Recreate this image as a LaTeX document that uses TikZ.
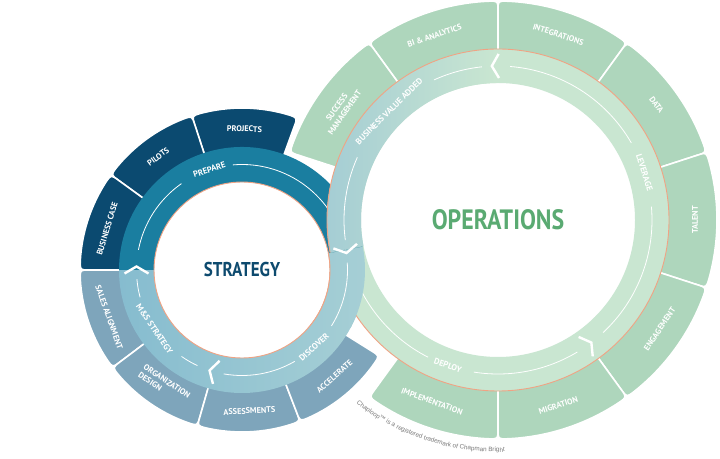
\documentclass[tikz,border=0pt]{standalone}
\usepackage{fontspec}
\usetikzlibrary{decorations.text}
\newfontfamily\labfont{PT Sans}
\newfontfamily\titlefont[FakeStretch=0.85]{PT Sans}
\newfontfamily\tmfont{Liberation Sans}

\definecolor{navy}{HTML}{0B4A70}
\definecolor{slate}{HTML}{7EA5BB}
\definecolor{prepteal}{HTML}{1A7EA0}
\definecolor{msblue}{HTML}{86BCCF}
\definecolor{discblue}{HTML}{A6CFD5}
\definecolor{opsgreen}{HTML}{AED6BC}
\definecolor{bandgreen}{HTML}{C9E6D1}
\definecolor{bandblue}{HTML}{A3CCD4}
\definecolor{rimorange}{HTML}{F0A384}
\definecolor{stratnavy}{HTML}{0D4A6E}
\definecolor{opstext}{HTML}{5AAA72}
\definecolor{tmgray}{HTML}{7A7A7A}

% ring piece: start angle, end angle, inner r, outer r, colour
\newcommand\ringseg[5]{%
  \pgfmathsetmacro\cra{9/#4*180/pi}
  \filldraw[fill=#5, draw=white, line width=1.6pt]
    (#1+\cra:#4) arc[start angle=#1+\cra, end angle=#2-\cra, radius=#4]
    .. controls (#2:#4) .. (#2:#4-9) -- (#2:#3)
    arc[start angle=#2, end angle=#1, radius=#3] -- (#1:#4-9)
    .. controls (#1:#4) .. (#1+\cra:#4) -- cycle;}

% chevron: centre, angle, radius, +1 ccw / -1 cw
\newcommand\chev[4]{%
  \draw[chevron, shift={(#1)}, rotate=#2]
    ({#3-12},{-3.5*(#4)}) -- (#3,{3.5*(#4)}) -- ({#3+12},{-3.5*(#4)});}

\newcommand\leftband{%
  \begin{scope}[shift={(L)}]
    \shade[left color=msblue, right color=discblue]
      (180:123) arc[start angle=180, end angle=371, radius=123]
      -- (371:88) arc[start angle=371, end angle=180, radius=88] -- cycle;
    \fill[prepteal] (11:123) arc[start angle=11, end angle=180, radius=123]
      -- (180:88) arc[start angle=180, end angle=11, radius=88] -- cycle;
    \foreach \a/\b in {125/169, 11/95, -32/4, 260/300, 235/245, 185/195}
      \draw[flowline] (\a:105.5) arc[start angle=\a, end angle=\b, radius=105.5];
    \draw[rimline] (0,0) circle[radius=88];
  \end{scope}}

\newcommand\rightband{%
  \begin{scope}[shift={(R)}]
    \fill[bandgreen, even odd rule] (0,0) circle[radius=171] (0,0) circle[radius=137];
    \shade[left color=bandblue, right color=bandgreen]
      (191:171) arc[start angle=191, end angle=91, radius=171]
      -- (91:137) arc[start angle=91, end angle=191, radius=137] -- cycle;
    \foreach \a/\b in {30/85.5, -47/5, 261/301, 196/243, 156/187.5, 96/114.5}
      \draw[flowline] (\a:154) arc[start angle=\a, end angle=\b, radius=154];
    \draw[rimline] (0,0) circle[radius=171];
  \end{scope}}

\begin{document}
\begin{tikzpicture}[
  x=1pt, y=1pt,
  seglab/.style={text=white, font=\labfont\bfseries\fontsize{8.2}{9.5}\selectfont, align=center, inner sep=0pt},
  bandlab/.style={text=white, font=\labfont\bfseries\fontsize{8.5}{9}\selectfont, inner sep=0pt},
  flowline/.style={white, line width=0.8pt},
  chevron/.style={white, line width=2.4pt, line join=miter},
  rimline/.style={rimorange, line width=0.9pt}
]
  \useasboundingbox (0,0) rectangle (720,458);
  \fill[white] (0,0) rectangle (720,458);
  \coordinate (L) at (242,188);
  \coordinate (R) at (498,238);

  % operations ring pieces
  \begin{scope}[shift={(R)}]
    \ringseg{90}{126}{169}{219}{opsgreen}
    \ringseg{54}{90}{169}{219}{opsgreen}
    \ringseg{18}{54}{169}{219}{opsgreen}
    \ringseg{-18}{18}{169}{219}{opsgreen}
    \ringseg{-54}{-18}{169}{219}{opsgreen}
    \ringseg{-90}{-54}{169}{219}{opsgreen}
    \ringseg{-126}{-90}{169}{219}{opsgreen}
    \ringseg{126}{162}{169}{219}{opsgreen}
    \node[seglab, rotate=19] (bi) at (109:195) {BI \& ANALYTICS};
    \node[seglab, rotate=-18] (integ) at (72:195) {INTEGRATIONS};
    \node[seglab, rotate=-54] (data) at (36:196) {DATA};
    \node[seglab, rotate=90] (talent) at (0:197) {TALENT};
    \node[seglab, rotate=56] (engage) at (-34:195) {ENGAGEMENT};
    \node[seglab, rotate=18] (migr) at (-72:195) {MIGRATION};
    \node[seglab, rotate=-20] (impl) at (-110:193) {IMPLEMENTATION};
    \node[seglab, rotate=55] (success) at (145:192) {SUCCESS\\MANAGEMENT};
  \end{scope}

  % strategy ring pieces
  \begin{scope}[shift={(L)}]
    \ringseg{70}{108}{121}{162}{navy}
    \ringseg{108}{144}{121}{162}{navy}
    \ringseg{144}{180}{121}{162}{navy}
    \ringseg{180}{217}{121}{162}{slate}
    \ringseg{217}{254}{121}{162}{slate}
    \ringseg{254}{291}{121}{162}{slate}
    \ringseg{291}{328}{121}{162}{slate}
    \node[seglab, rotate=-1] (projects) at (89:141) {PROJECTS};
    \node[seglab, rotate=36.5] (pilots) at (126.5:141) {PILOTS};
    \node[seglab, rotate=73] (bcase) at (163:141) {BUSINESS CASE};
    \node[seglab, rotate=-70.5] (sales) at (199.5:141) {SALES ALIGNMENT};
    \node[seglab, rotate=-34, align=left] (orgdes) at (236:139) {ORGANIZATION\\DESIGN};
    \node[seglab, rotate=3] (assess) at (273:141) {ASSESSMENTS};
    \node[seglab, rotate=41] (accel) at (311:141) {ACCELERATE};
  \end{scope}

  % the two flow bands, linked at the crossing
  \leftband
  \rightband
  \begin{scope}
    \clip (300,{188+58*50/256}) -- (420,{188+178*50/256}) -- (420,130) -- (300,130) -- cycle;
    \leftband
  \end{scope}

  \chev{L}{180}{105.5}{-1}
  \chev{L}{254}{105.5}{-1}
  \chev{R}{91}{154}{1}
  \chev{R}{306}{154}{1}
  \chev{R}{191}{155}{1}

  \begin{scope}[shift={(L)}]
    \node[bandlab, rotate=18] (prepare) at (108:105.5) {PREPARE};
    \node[bandlab, rotate=-56] (msstrat) at (214:105.5) {M\&S STRATEGY};
    \node[bandlab, rotate=43] (discover) at (313:105.5) {DISCOVER};
  \end{scope}
  \begin{scope}[shift={(R)}]
    \node[bandlab, rotate=45] (bva) at (135:154) {BUSINESS VALUE ADDED};
    \node[bandlab, rotate=-72] (leverage) at (18:154) {LEVERAGE};
    \node[bandlab, rotate=-19] (deploy) at (251:154) {DEPLOY};
  \end{scope}

  \node[font=\titlefont\bfseries\fontsize{20}{22}\selectfont, text=stratnavy] (strategy) at (L) {STRATEGY};
  \node[font=\titlefont\bfseries\fontsize{28}{30}\selectfont, text=opstext] (operations) at (R) {OPERATIONS};

  \path[decorate, decoration={text along path, text align=center, text color=tmgray,
      text={|\tmfont\fontsize{6.3}{7}\selectfont|Chaploop™ is a registered trademark of Chapman Bright}}]
    (R) ++(228:232) arc[start angle=228, end angle=276, radius=232];
\end{tikzpicture}
\end{document}
